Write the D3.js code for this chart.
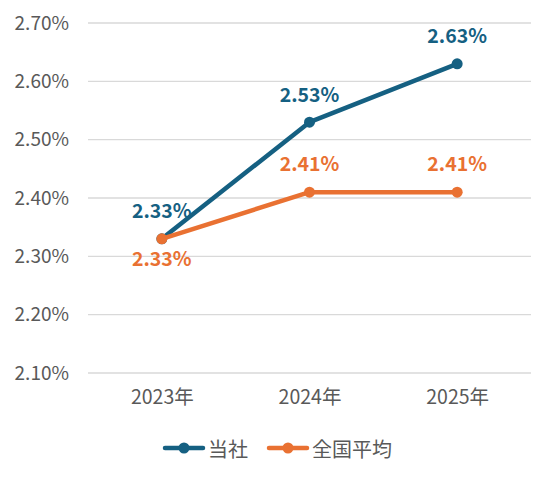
<!DOCTYPE html>
<html><head><meta charset="utf-8">
<script src="https://cdn.jsdelivr.net/npm/d3@7"></script>
<style>body{margin:0;background:#fff}svg{display:block}</style>
</head><body>
<script>
const categories = ["2023年","2024年","2025年"];
const seriesNames = ["当社","全国平均"];
const companyValues = [2.33, 2.53, 2.63];
const nationalValues = [2.33, 2.41, 2.41];
const yTicks = [2.10, 2.20, 2.30, 2.40, 2.50, 2.60, 2.70];
const colors = ["#156082", "#E97132"];

const W = 553, H = 478;
const font = "'Noto Sans CJK JP', 'Noto Sans', sans-serif";
const svg = d3.select("body").append("svg").attr("width", W).attr("height", H);

const x = d3.scalePoint().domain(categories).range([88, 531]).padding(0.5);
const y = d3.scaleLinear().domain([2.10, 2.70]).range([373, 23]);

svg.append("g").selectAll("line").data(yTicks).join("line")
  .attr("x1", 88).attr("x2", 531)
  .attr("y1", d => y(d)).attr("y2", d => y(d))
  .attr("stroke", "#D9D9D9").attr("stroke-width", 1.3);

const yAxis = d3.axisLeft(y).tickValues(yTicks).tickFormat(d => d.toFixed(2) + "%").tickSize(0).tickPadding(0);
const gy = svg.append("g").attr("transform", "translate(69,0)").call(yAxis);
gy.select(".domain").remove();
gy.selectAll("text").attr("fill", "#595959").style("font-family", font).style("font-size", "19px");

const xAxis = d3.axisBottom(x).tickSize(0).tickPadding(0);
const gx = svg.append("g").attr("transform", "translate(0,394)").call(xAxis);
gx.select(".domain").remove();
gx.selectAll("text").attr("fill", "#595959").style("font-family", font).style("font-size", "19.5px").attr("dy", "0.5em");

const series = [companyValues, nationalValues];
const line = d3.line().x((d, i) => x(categories[i])).y(d => y(d));

[0, 1].forEach(s => {
  svg.append("path").datum(series[s]).attr("d", line)
    .attr("fill", "none").attr("stroke", colors[s]).attr("stroke-width", 4.5)
    .attr("stroke-linejoin", "round").attr("stroke-linecap", "round");
  svg.append("g").selectAll("circle").data(series[s]).join("circle")
    .attr("cx", (d, i) => x(categories[i])).attr("cy", d => y(d)).attr("r", 5.5)
    .attr("fill", colors[s]);
});

const labelOffsets = [[-29, -29, -29], [19, -30, -30]];
[0, 1].forEach(s => {
  svg.append("g").selectAll("text").data(series[s]).join("text")
    .attr("x", (d, i) => x(categories[i]))
    .attr("y", (d, i) => y(d) + labelOffsets[s][i])
    .attr("text-anchor", "middle").attr("dominant-baseline", "central")
    .attr("fill", colors[s]).style("font-family", font).style("font-size", "19.5px").style("font-weight", "bold")
    .text(d => d.toFixed(2) + "%");
});

const legend = svg.append("g");
const legendItems = [{x: 163, name: seriesNames[0], c: colors[0]}, {x: 267, name: seriesNames[1], c: colors[1]}];
legendItems.forEach(it => {
  legend.append("line").attr("x1", it.x + 2).attr("x2", it.x + 40).attr("y1", 448).attr("y2", 448)
    .attr("stroke", it.c).attr("stroke-width", 4.5).attr("stroke-linecap", "round");
  legend.append("circle").attr("cx", it.x + 21).attr("cy", 448).attr("r", 5.5).attr("fill", it.c);
  legend.append("text").attr("x", it.x + 45).attr("y", 448).attr("dominant-baseline", "central")
    .attr("fill", "#595959").style("font-family", font).style("font-size", "20px").text(it.name);
});
</script>
</body></html>
